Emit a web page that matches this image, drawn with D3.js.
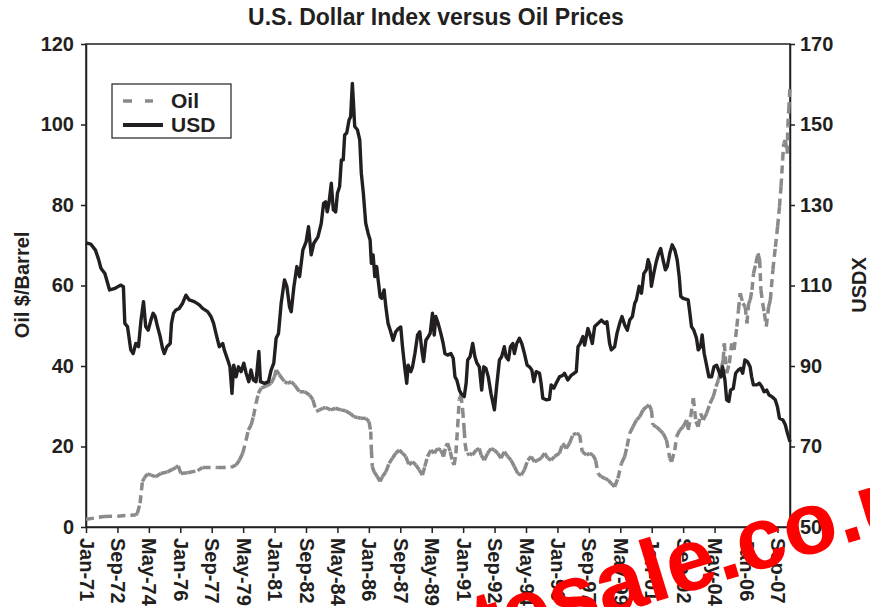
<!DOCTYPE html>
<html>
<head>
<meta charset="utf-8">
<script src="https://cdn.jsdelivr.net/npm/d3@7"></script>
<style>
  body { margin: 0; background: #fff; }
  text { font-family: "Liberation Sans", Arial, sans-serif; font-weight: bold; }
</style>
</head>
<body>
<div id="chart"></div>
<script>
const w = 870,
    h = 607;

// months since Jan-71 for the category ticks
const tickMonths = [0, 20, 40, 60, 80, 100, 120, 140, 160, 180, 200, 220, 240, 260, 280, 300, 320, 340, 360, 380, 400, 420, 440];
const tickLabels = ["Jan-71", "Sep-72", "May-74", "Jan-76", "Sep-77", "May-79", "Jan-81", "Sep-82", "May-84", "Jan-86", "Sep-87", "May-89", "Jan-91", "Sep-92", "May-94", "Jan-96", "Sep-97", "May-99", "Jan-01", "Sep-02", "May-04", "Jan-06", "Sep-07"];
const oilTicks = [0, 20, 40, 60, 80, 100, 120];
const usdTicks = [50, 70, 90, 110, 130, 150, 170];

// USD index (month index, value)
const usdMonth = [0, 3, 6, 8, 9.5, 12, 15, 18, 22, 23.8, 24.7, 26.4, 28.5, 30, 31.7, 33.4, 35, 36.6, 38, 39.6, 41.3, 42.7, 44, 45.5, 47.2, 48.7, 49.8, 51.5, 53.6, 54.4, 55.7, 57.2, 59.3, 61.5, 63.6, 65.7, 68.9, 72.1, 74.2, 77.4, 79.5, 81.2, 82.7, 84.8, 87, 88, 90.2, 91.6, 92.9, 94, 95.5, 97, 98.7, 100.4, 101.9, 103.6, 105, 106.5, 108.2, 110, 111, 113.6, 116.1, 117.8, 119.5, 121, 122.5, 124.2, 126.3, 127.8, 129.5, 130.6, 132.3, 134.2, 135.9, 138, 140.1, 141.6, 143.3, 145, 147.6, 149.7, 151.2, 152.5, 153.5, 154.6, 156.1, 157.4, 158.9, 160, 161.4, 162.5, 163.7, 164.6, 165.9, 167.4, 168.4, 169.5, 170.1, 171, 172.7, 174.2, 175.2, 176.5, 178, 179.5, 180.8, 181.6, 182.7, 183.8, 185, 185.9, 187.2, 188.2, 189.7, 190.8, 192.2, 193.9, 195.4, 197.1, 198.8, 200.3, 201.4, 202.9, 204.1, 205, 206.7, 207.8, 209.3, 211, 212.4, 213.7, 214.8, 216.3, 217.8, 219, 220.5, 221.6, 222.6, 224.1, 225.8, 227.3, 228.4, 230.1, 232.2, 233.7, 234.8, 236, 237.6, 238.6, 240.7, 241.9, 242.9, 244.4, 246.1, 247.5, 248.8, 250.3, 251.8, 253.1, 254.5, 256, 257.7, 259.9, 261.3, 263.1, 264.5, 266.2, 267.3, 268.8, 270.1, 271.6, 272.6, 274.1, 275.8, 277.3, 279, 280.7, 282.2, 283.7, 285, 286.5, 288.6, 289.6, 290.7, 292.8, 294.9, 296, 297.7, 299.2, 301.3, 303.5, 304.5, 306.6, 308.8, 312, 313.1, 314.5, 316.2, 317.3, 319.4, 320.5, 322.2, 323.7, 325.9, 328, 330.1, 331.5, 333.2, 334.3, 336.4, 337.9, 339.6, 341.1, 342.8, 344.5, 346, 347.7, 349.2, 350.2, 352, 353.5, 355, 356.6, 357.7, 358.8, 359.8, 361.3, 362.9, 364.4, 365.7, 367.2, 368.7, 369.9, 371.5, 373, 374.7, 376.2, 377.5, 378.5, 380, 383.2, 384.3, 385.3, 386.8, 388.5, 389.6, 391.1, 392.1, 393.4, 394.9, 396.4, 398.1, 399.6, 401.3, 402.8, 404, 405.1, 406.6, 407.7, 409.1, 410.2, 411.9, 413.4, 415.1, 416.6, 417.9, 419.3, 420.9, 422.6, 423.6, 424.7, 426.8, 428.5, 430, 431.5, 433.2, 434.7, 436.4, 438.6, 440, 441.3, 443.5, 445, 446.4, 448];
const usdValue = [120.6, 120.3, 118.8, 116.5, 114.3, 113, 108.9, 109.2, 110.1, 109.7, 100.6, 99.8, 94, 93.1, 95.6, 94.8, 101.4, 106, 99.8, 98.9, 101.4, 103.1, 102.3, 99.8, 97.3, 94.4, 93.1, 94.8, 95.6, 100.6, 103.1, 103.9, 104.3, 105.6, 107.6, 106.4, 106, 105.2, 104.3, 103.5, 102.3, 100.6, 98.1, 94.8, 95.6, 94, 91.5, 89.8, 83.2, 90.2, 87.3, 89.8, 88.6, 90.7, 88.2, 86.1, 89, 86.5, 86.1, 93.6, 86.1, 85.7, 86.1, 89, 90.7, 96.9, 98.1, 105.6, 111.4, 109.8, 104.7, 103.5, 109.7, 114.7, 112.2, 118.8, 120.9, 124.6, 117.6, 120.5, 122.1, 125.4, 130.4, 130.8, 128.3, 130.4, 135.4, 128.8, 128.3, 132.9, 134.6, 141.2, 141.2, 147.4, 147.9, 151.1, 151.9, 160.2, 156.1, 149.5, 148.7, 146.2, 137.9, 132.9, 125.5, 123, 121.3, 115.5, 117.6, 112.2, 114.7, 111.4, 107.2, 106.8, 108.9, 104.7, 100.6, 98.5, 96.4, 98.5, 99.3, 99.7, 94.8, 89.4, 85.7, 90.2, 88.6, 89.8, 93.1, 97.7, 98.5, 94, 91.1, 96.4, 97.3, 98.1, 103.1, 97.7, 102.3, 100.6, 98.1, 95.6, 93.1, 92.7, 93.1, 91.9, 87.3, 86.5, 84, 83.2, 82.4, 85.7, 91.5, 92.3, 95.6, 92.3, 90.7, 89.8, 84, 89.8, 89.4, 87.3, 83.2, 79.1, 84.9, 91.5, 92.3, 94.8, 92.3, 91.5, 94.8, 95.6, 93.1, 95.6, 96.9, 95.6, 93.1, 90.2, 89.8, 89, 86.1, 88.6, 88.2, 85.7, 82, 81.6, 81.7, 85.3, 84.5, 85.7, 87.3, 87.7, 88.2, 86.5, 87.7, 88.6, 94.8, 95.6, 97.3, 95.2, 99.3, 98.1, 95.6, 99.8, 100.6, 101.4, 100.6, 101, 95.6, 94, 94.8, 98.1, 100.6, 102.3, 100.2, 98.9, 101.4, 102.3, 105.6, 106.4, 109.8, 108.1, 113, 113.9, 116.4, 115.1, 109.8, 113, 115.9, 118, 119.2, 116.4, 113.9, 114.7, 118, 120.1, 118.8, 116.4, 112.2, 107.3, 106.8, 106.4, 103.1, 99.8, 98.9, 96.9, 94, 94.8, 97.7, 93.1, 90.2, 87.3, 87.3, 89.8, 90.2, 88.6, 87.3, 89.8, 86.5, 81.6, 81.2, 84, 84.4, 88.2, 89, 89.4, 88.2, 91.5, 91.1, 89.8, 87.3, 85.3, 85.3, 85.7, 84.9, 83.6, 84, 82.8, 82.4, 81.6, 79.9, 77, 76.6, 75.4, 73.3, 71.2];

// oil $/barrel (month index, value)
const oilMonth = [0, 11.5, 20, 31.7, 32.7, 34.4, 35.9, 37, 39.1, 41.3, 44.4, 47.6, 51.9, 55, 57.2, 58.7, 60.4, 64.6, 71, 74.2, 83.8, 92.3, 95.5, 97.6, 99.7, 101.9, 103.3, 105, 106.5, 108.2, 109.7, 111.4, 114.6, 117.8, 119.9, 121, 123.1, 126.3, 128.4, 130.6, 132.7, 135.9, 139.1, 142.3, 144.4, 146.5, 148.6, 150.8, 152.5, 155.7, 158.9, 162, 165.2, 168.5, 170.5, 172.7, 174.9, 178, 180.1, 181.2, 181.6, 182.2, 183.3, 185.4, 187.1, 188.6, 190.8, 192.9, 195, 197.1, 199.3, 201.4, 203.5, 205.6, 207.8, 209.9, 212, 214.1, 215.6, 217.3, 219.5, 221.6, 223.7, 225.8, 227.5, 229, 230.1, 231.8, 233.3, 234.3, 235.4, 236.5, 237.5, 238.6, 239.7, 240.7, 241.2, 242.4, 243.9, 246, 248.2, 250.3, 251.4, 253.5, 255.6, 257.8, 259.9, 262, 264.1, 266.2, 268.4, 270.5, 272.6, 274.8, 276.9, 279, 281.1, 283.3, 285.4, 287.5, 289.6, 291.8, 293.9, 296, 298.1, 301.3, 303.4, 305.6, 307.7, 309.8, 312, 314.1, 315.8, 318.4, 320.5, 322.6, 324.3, 325.8, 327.9, 330.1, 332.2, 334.3, 336.4, 338.5, 340.7, 342.8, 344.3, 346, 348.1, 350.3, 352.4, 354.5, 356.6, 358.3, 359.8, 360.8, 363, 365.1, 367.2, 369.4, 371.5, 372.6, 374.7, 375.8, 377.9, 380, 382.2, 383.2, 384.8, 386.5, 388.1, 389.6, 391.1, 392.8, 394.9, 397.1, 399.2, 400.9, 402.4, 403.4, 404.5, 405.5, 406.2, 407.7, 409.4, 410.9, 412.4, 414.2, 415.2, 416.3, 418, 419.5, 420.6, 421.7, 422.7, 423.8, 424.8, 426.3, 427.6, 428.7, 429.5, 430.6, 431.7, 432.9, 434.4, 435.5, 437.1, 438.7, 440.1, 441.3, 442.3, 443.3, 444, 445.1, 446.2, 446.6, 447.2, 448];
const oilValue = [1.9, 2.6, 2.7, 3.0, 3.4, 5.9, 11.3, 12.1, 13.2, 12.9, 12.5, 13.3, 13.7, 14.3, 14.8, 15.2, 13.3, 13.5, 14, 14.8, 14.8, 14.8, 15.4, 16.6, 18.3, 21.6, 24.1, 25.3, 27.4, 30.7, 33.2, 34.5, 35, 35.7, 37.3, 39, 37.8, 36.1, 35.7, 36.1, 35.3, 33.6, 33.6, 32.8, 31.6, 28.7, 29.1, 29.5, 29.7, 29.1, 29.5, 29.1, 28.9, 28.1, 27.4, 27.2, 27, 27, 26.2, 23.7, 19.1, 15, 13.7, 12.5, 11.3, 12.5, 13.7, 15.8, 17.1, 18.3, 19.1, 18.3, 17.5, 15.4, 16.2, 15.4, 14.2, 12.9, 15, 17.5, 19.1, 18.3, 19.5, 19.1, 17.5, 20, 20.8, 18.7, 16.2, 15.4, 18.3, 24.9, 31.6, 32.8, 29.1, 24.1, 20.8, 17.9, 18.3, 17.9, 19.1, 19.5, 17.9, 16.6, 18.3, 19.5, 19.1, 18.3, 17.1, 18.7, 17.5, 16.6, 15, 13.3, 12.9, 14.2, 16.6, 17.5, 16.2, 16.6, 17.1, 18.3, 17.1, 16.6, 17.5, 18.3, 20.8, 19.5, 20.8, 22.9, 23.3, 22.9, 18.7, 17.9, 18.3, 17.9, 16.6, 13.3, 12.5, 12.1, 11.7, 10.8, 10, 12.1, 15.8, 17.5, 20, 23.3, 24.9, 26.6, 27.4, 29.1, 29.9, 30.3, 29.1, 25.3, 24.9, 24.1, 23.3, 21.6, 17.1, 16.2, 19.1, 22.4, 24.1, 24.9, 26.6, 24.1, 27.4, 32, 26.2, 24.9, 28.2, 26.6, 28.2, 30.7, 32.4, 34.9, 36.5, 38.2, 39.8, 41.5, 45.6, 38.2, 40.7, 45.6, 44, 49.8, 53.9, 58.1, 55.6, 54.7, 50.6, 55.6, 56.4, 58.9, 63, 65.5, 68, 66.3, 58.9, 55.6, 53.1, 49.8, 54.7, 56.4, 63.9, 69.6, 74.6, 79.6, 84.6, 91.2, 95.3, 96.1, 92.8, 99.5, 103.6, 109.4];

const margin = {top: 44, right: 80, bottom: 80, left: 86};

const svg = d3.select("#chart")
    .append("svg")
    .attr("width", w)
    .attr("height", h);

const xScale = d3.scaleLinear()
    .domain([0, 448])
    .range([margin.left, w - margin.right]);

const yOil = d3.scaleLinear()
    .domain([0, 120])
    .range([h - margin.bottom, margin.top]);

const yUsd = d3.scaleLinear()
    .domain([50, 170])
    .range([h - margin.bottom, margin.top]);

// title
svg.append("text")
    .attr("x", 436)
    .attr("y", 25)
    .attr("text-anchor", "middle")
    .style("font-size", "23px")
    .attr("fill", "#231f20")
    .text("U.S. Dollar Index versus Oil Prices");

// plot frame
svg.append("rect")
    .attr("x", margin.left)
    .attr("y", margin.top)
    .attr("width", w - margin.left - margin.right)
    .attr("height", h - margin.top - margin.bottom)
    .attr("fill", "none")
    .attr("stroke", "#231f20")
    .attr("stroke-width", 1.5);

// axes
const leftAxis = svg.append("g")
    .attr("transform", "translate(" + margin.left + ",0)")
    .call(d3.axisLeft(yOil).tickValues(oilTicks).tickSize(5).tickPadding(7).tickSizeOuter(0));

const rightAxis = svg.append("g")
    .attr("transform", "translate(" + (w - margin.right) + ",0)")
    .call(d3.axisRight(yUsd).tickValues(usdTicks).tickSize(5).tickPadding(5).tickSizeOuter(0));

const bottomAxis = svg.append("g")
    .attr("transform", "translate(0," + (h - margin.bottom) + ")")
    .call(d3.axisBottom(xScale).tickValues(tickMonths).tickSize(6).tickSizeOuter(0)
        .tickFormat(function (d, i) { return tickLabels[i]; }));

[leftAxis, rightAxis, bottomAxis].forEach(function (a) {
    a.select(".domain").attr("stroke", "#231f20").attr("stroke-width", 1.5);
    a.selectAll(".tick line").attr("stroke", "#231f20").attr("stroke-width", 1.5);
    a.selectAll(".tick text")
        .attr("fill", "#231f20")
        .style("font-size", "20px")
        .style("font-family", "'Liberation Sans', Arial, sans-serif")
        .style("font-weight", "bold");
});

bottomAxis.selectAll(".tick text")
    .attr("y", 0)
    .attr("dy", "0.35em")
    .attr("transform", "translate(0,11) rotate(90)")
    .attr("text-anchor", "start");

// axis titles
svg.append("text")
    .attr("transform", "translate(29,285) rotate(-90)")
    .attr("text-anchor", "middle")
    .style("font-size", "20px")
    .attr("fill", "#231f20")
    .text("Oil $/Barrel");

svg.append("text")
    .attr("transform", "translate(866,285) rotate(-90)")
    .attr("text-anchor", "middle")
    .style("font-size", "20px")
    .attr("fill", "#231f20")
    .text("USDX");

// oil: each monthly step is its own dashed piece, so flat runs look solid
const oilPts = oilMonth.map(function (m, i) { return [xScale(m), yOil(oilValue[i])]; });
const oilSegs = d3.pairs(oilPts);

svg.append("g")
    .selectAll("line")
    .data(oilSegs)
    .enter()
    .append("line")
    .attr("x1", function (d) { return d[0][0]; })
    .attr("y1", function (d) { return d[0][1]; })
    .attr("x2", function (d) { return d[1][0]; })
    .attr("y2", function (d) { return d[1][1]; })
    .attr("stroke", "#8a8a8a")
    .attr("stroke-width", 3.5)
    .attr("stroke-dasharray", "8,5");

const usdLine = d3.line()
    .x(function (d) { return xScale(d[0]); })
    .y(function (d) { return yUsd(d[1]); });

svg.append("path")
    .datum(usdMonth.map(function (m, i) { return [m, usdValue[i]]; }))
    .attr("d", usdLine)
    .attr("fill", "none")
    .attr("stroke", "#231f20")
    .attr("stroke-width", 3.4)
    .attr("stroke-linejoin", "round");

// legend
const legend = svg.append("g");
legend.append("rect")
    .attr("x", 112)
    .attr("y", 84)
    .attr("width", 119)
    .attr("height", 54)
    .attr("fill", "#fff")
    .attr("stroke", "#231f20")
    .attr("stroke-width", 1.2);
legend.append("line")
    .attr("x1", 123).attr("x2", 153)
    .attr("y1", 101).attr("y2", 101)
    .attr("stroke", "#8a8a8a")
    .attr("stroke-width", 3.5)
    .attr("stroke-dasharray", "9,13");
legend.append("line")
    .attr("x1", 123).attr("x2", 163)
    .attr("y1", 125).attr("y2", 125)
    .attr("stroke", "#231f20")
    .attr("stroke-width", 3.8);
legend.append("text")
    .attr("x", 171).attr("y", 108)
    .style("font-size", "21px")
    .attr("fill", "#231f20")
    .text("Oil");
legend.append("text")
    .attr("x", 171).attr("y", 132)
    .style("font-size", "21px")
    .attr("fill", "#231f20")
    .text("USD");

// watermark over the corner
svg.append("text")
    .attr("transform", "translate(380,686) rotate(-17)")
    .style("font-size", "88px")
    .attr("fill", "#ff0000")
    .text("notesale.co.uk");
</script>
</body>
</html>
